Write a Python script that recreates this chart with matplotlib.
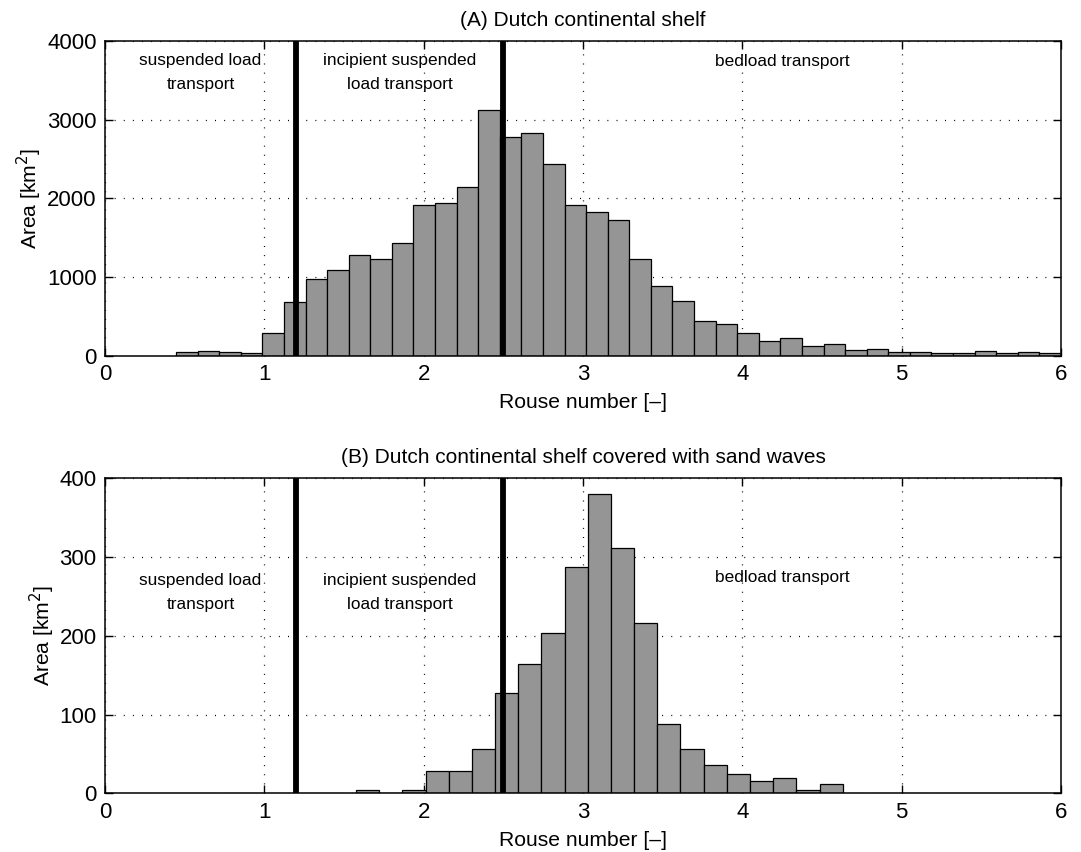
import numpy as np
from matplotlib import pyplot as plt

plt.rcParams['font.family'] = ['Liberation Sans', 'DejaVu Sans']

# histogram of area per Rouse-number class
# (A) whole Dutch continental shelf
area_a = [42, 55, 47, 38, 284, 686, 975, 1089, 1275, 1229, 1432, 1911, 1941,
          2144, 3119, 2784, 2826, 2441, 1911, 1826, 1729, 1233, 886, 691, 436,
          398, 284, 191, 229, 127, 153, 68, 89, 47, 47, 30, 30, 59, 34, 47, 34]
range_a = (0.446, 6.0)

# (B) part covered with sand waves
area_b = [4, 0, 4, 28, 28, 56, 128, 164, 204, 288, 380, 312, 216, 88, 56, 36,
          24, 16, 20, 4, 12]
range_b = (1.576, 4.630)

# transition values of the Rouse number between transport regimes
limits = [1.2, 2.5]
regimes = ["suspended load\ntransport", "incipient suspended\nload transport",
           "bedload transport"]
regime_x = [0.6, 1.85, 4.25]

titles = ["(A) Dutch continental shelf",
          "(B) Dutch continental shelf covered with sand waves"]

fig = plt.figure(figsize=(10.81, 8.52), dpi=100)
ax_a = fig.add_axes([0.0971, 0.5825, 0.8844, 0.3694])
ax_b = fig.add_axes([0.0971, 0.0689, 0.8844, 0.3697])

panels = [
    (ax_a, area_a, range_a, 4000, 1000, [3600, 3600, 3745]),
    (ax_b, area_b, range_b, 400, 100, [255, 255, 274]),
]

for k, (ax, area, rng, ymax, ystep, text_y) in enumerate(panels):
    edges = np.linspace(rng[0], rng[1], len(area) + 1)
    ax.bar(edges[:-1], area, width=np.diff(edges), align='edge',
           color='#959595', edgecolor='black', linewidth=0.9, zorder=2)

    for xl in limits:
        ax.axvline(xl, color='black', linewidth=4.2, zorder=3)

    for txt, tx, ty in zip(regimes, regime_x, text_y):
        ax.text(tx, ty, txt, ha='center', va='center', fontsize=12.4,
                linespacing=1.7, zorder=4)

    ax.set_xlim(0, 6)
    ax.set_ylim(0, ymax)
    ax.set_xticks(np.arange(0, 7, 1))
    ax.set_yticks(np.arange(0, ymax + 1, ystep))
    ax.grid(True, color='black', linestyle=(0, (0.8, 6.5)), linewidth=0.9,
            zorder=0)
    ax.set_axisbelow(True)
    ax.tick_params(direction='in', length=6, width=1, top=True, right=True,
                   labelsize=16, pad=6)
    for sp in ax.spines.values():
        sp.set_linewidth(1.1)

    ax.set_xlabel("Rouse number [\u2013]", fontsize=15.2, labelpad=6)
    ax.set_ylabel("Area [km$^2$]", fontsize=15.2, labelpad=2)
    ax.set_title(titles[k], fontsize=15, pad=11)

plt.savefig("out.png", dpi=100)
